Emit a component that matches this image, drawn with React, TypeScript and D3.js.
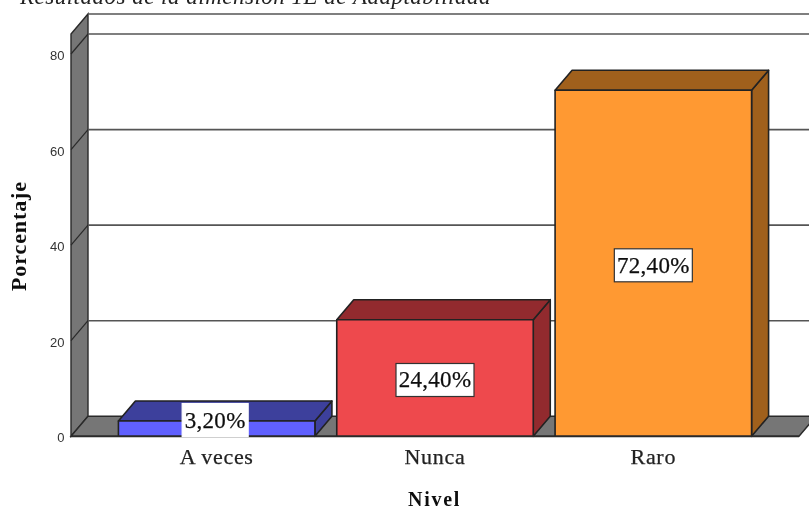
import React from "react";
import * as d3 from "d3";

const categories = ["A veces", "Nunca", "Raro"];
const values = [3.2, 24.4, 72.4];
const labels = ["3,20%", "24,40%", "72,40%"];
const ticks = [0, 20, 40, 60, 80];
const frontColors = ["#6060ff", "#ee4a4d", "#ff9933"];
const topColors = ["#3d3f9c", "#922c2f", "#a0601f"];
const sideColors = ["#3d3f9c", "#922c2f", "#a0601f"];
const titleText = "Resultados de la dimensión 1E de Adaptabilidad";
const xTitle = "Nivel";
const yTitle = "Porcentaje";

const W = 809, H = 510;
const DX = 17, DY = -20;
const serif = "'Liberation Serif', serif";
const sans = "'Liberation Sans', Arial, sans-serif";

export default function App() {
  const y = d3.scaleLinear().domain([0, 80]).range([436.3, 54]);
  const x = d3.scaleBand<string>().domain(categories).range([107.5, 762.5]).paddingInner(0.1).paddingOuter(0.05);
  const pts = (p: [number, number][]) => p.map((q) => q.join(",")).join(" ");
  const wallLeft = 71, wallTopY = 34, floorRight = 799;
  const y0 = y(0);
  const line = "#2a2a2a";
  return (
    <svg width={W} height={H} style={{ position: "fixed", left: 0, top: 0, background: "#fff" }}>
      <defs>
        <filter id="soft" x="0" y="0" width={W} height={H} filterUnits="userSpaceOnUse">
          <feGaussianBlur stdDeviation="0.55" />
        </filter>
      </defs>
      <g filter="url(#soft)">
        <text x={255.5} y={3.5} textAnchor="middle" fontFamily={serif} fontStyle="italic" fontSize={23} letterSpacing={0.5} fill="#222">{titleText}</text>
        {/* left wall */}
        <polygon points={pts([[wallLeft, wallTopY], [wallLeft + DX, wallTopY + DY], [wallLeft + DX, y0 + DY], [wallLeft, y0]])} fill="#767676" stroke={line} strokeWidth={1.4} />
        {/* floor */}
        <polygon points={pts([[wallLeft, y0], [wallLeft + DX, y0 + DY], [floorRight + DX, y0 + DY], [floorRight, y0]])} fill="#767676" stroke={line} strokeWidth={1.4} />
        {/* top of back wall */}
        <line x1={wallLeft + DX} x2={W} y1={wallTopY + DY} y2={wallTopY + DY} stroke="#555" strokeWidth={1.7} />
        {/* gridlines */}
        {ticks.filter((t) => t > 0).map((t) => (
          <g key={t}>
            <line x1={wallLeft} x2={wallLeft + DX} y1={y(t)} y2={y(t) + DY} stroke={line} strokeWidth={1.2} />
            <line x1={wallLeft + DX} x2={W} y1={y(t) + DY} y2={y(t) + DY} stroke="#555" strokeWidth={1.7} />
          </g>
        ))}
        {/* tick labels */}
        {ticks.map((t) => (
          <text key={t} x={64.5} y={y(t) + 6} textAnchor="end" fontFamily={sans} fontSize={13} fill="#333">{t}</text>
        ))}
        {/* bars */}
        {categories.map((c, i) => {
          const bx = x(c)!;
          const bw = x.bandwidth();
          const by = y(values[i]);
          return (
            <g key={c} stroke="#222" strokeWidth={1.6} strokeLinejoin="round">
              <polygon points={pts([[bx + bw, by], [bx + bw + DX, by + DY], [bx + bw + DX, y0 + DY], [bx + bw, y0]])} fill={sideColors[i]} />
              <polygon points={pts([[bx, by], [bx + DX, by + DY], [bx + bw + DX, by + DY], [bx + bw, by]])} fill={topColors[i]} />
              <rect x={bx} y={by} width={bw} height={y0 - by} fill={frontColors[i]} />
            </g>
          );
        })}
        {/* baseline */}
        <line x1={wallLeft} x2={floorRight} y1={y0} y2={y0} stroke={line} strokeWidth={1.7} />
        {/* value labels */}
        {categories.map((c, i) => {
          const cx = x(c)! + x.bandwidth() / 2 + (i === 0 ? -1.5 : 0);
          const cy = i === 0 ? 420 : y(values[i] / 2) + 2;
          const w = i === 0 ? 66 : 78;
          return (
            <g key={c}>
              <rect x={cx - w / 2} y={cy - 16.5} width={w} height={33} fill="#fff" stroke={i === 0 ? "#fff" : "#333"} strokeWidth={1.2} />
              <text x={cx} y={cy + 7.5} textAnchor="middle" fontFamily={serif} fontSize={23} letterSpacing={0.3} stroke="#111" strokeWidth={0.25} fill="#111">{labels[i]}</text>
            </g>
          );
        })}
        {/* category labels */}
        {categories.map((c) => (
          <text key={c} x={x(c)! + x.bandwidth() / 2} y={464} textAnchor="middle" fontFamily={serif} fontSize={22} letterSpacing={0.7} stroke="#222" strokeWidth={0.25} fill="#222">{c}</text>
        ))}
        <text x={434.5} y={505.5} textAnchor="middle" fontFamily={serif} fontWeight="bold" fontSize={20} letterSpacing={1.7} fill="#111">{xTitle}</text>
        <text transform="translate(26,236) rotate(-90)" textAnchor="middle" fontFamily={serif} fontWeight="bold" fontSize={22} letterSpacing={0.9} fill="#111">{yTitle}</text>
      </g>
    </svg>
  );
}
